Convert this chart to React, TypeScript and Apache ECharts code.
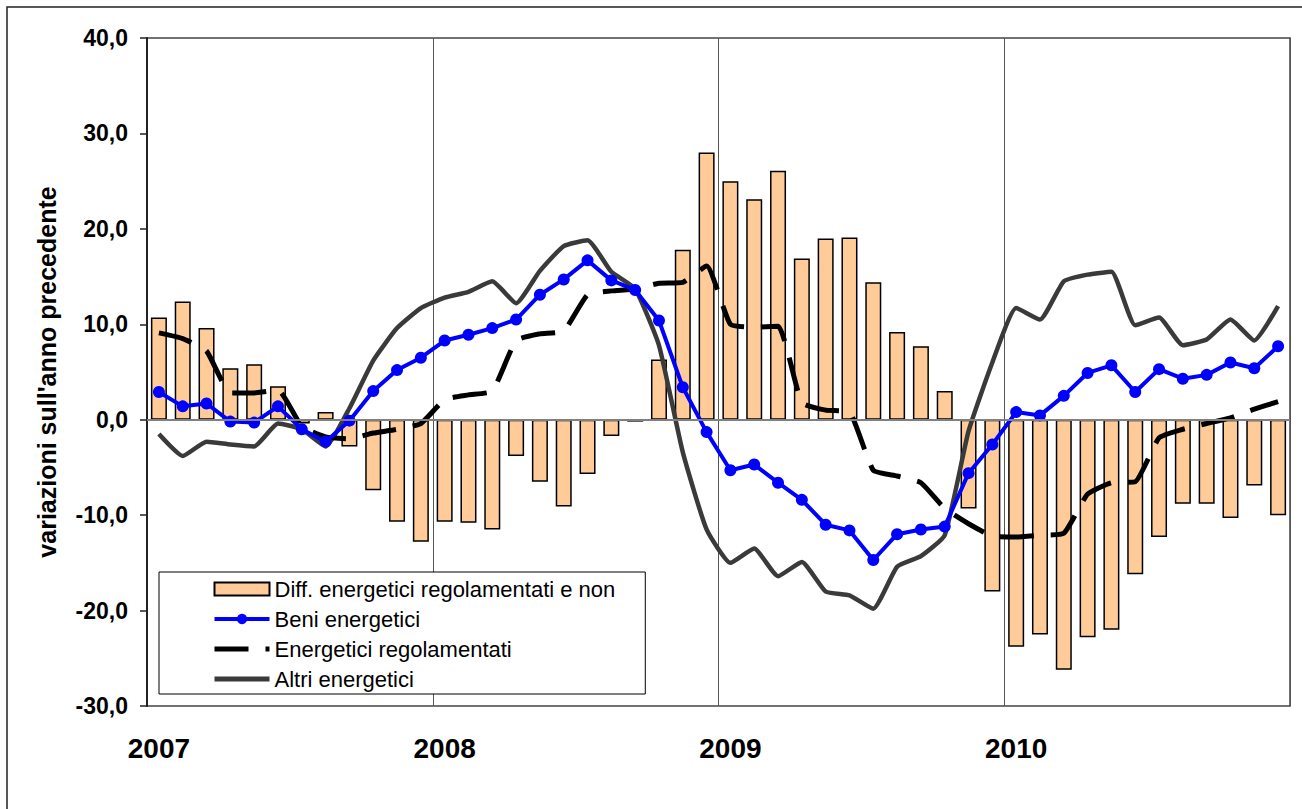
import React, { useEffect, useRef } from "react";
import * as echarts from "echarts";

const years = ["2007", "2008", "2009", "2010"];
const months = ["01", "02", "03", "04", "05", "06", "07", "08", "09", "10", "11", "12"];
const categories: string[] = [];
years.forEach((y) => months.forEach((m) => categories.push(`${y}-${m}`)));

const diffRegolamentati = [
  10.7, 12.4, 9.6, 5.4, 5.8, 3.5, -0.4, 0.8, -2.8, -7.4, -10.7, -12.8,
  -10.7, -10.8, -11.5, -3.8, -6.5, -9.1, -5.7, -1.7, -0.2, 6.3, 17.8, 28.0,
  25.0, 23.1, 26.1, 16.9, 19.0, 19.1, 14.4, 9.2, 7.7, 3.0, -9.3, -18.0,
  -23.8, -22.5, -26.2, -22.8, -22.0, -16.2, -12.3, -8.8, -8.8, -10.3, -6.9, -10.0,
];

const beniEnergetici = [
  2.9, 1.4, 1.7, -0.2, -0.3, 1.4, -1.0, -2.3, -0.1, 3.0, 5.2, 6.5,
  8.3, 8.9, 9.6, 10.5, 13.1, 14.7, 16.7, 14.6, 13.6, 10.4, 3.4, -1.3,
  -5.3, -4.7, -6.6, -8.4, -11.0, -11.6, -14.7, -12.0, -11.5, -11.2, -5.6, -2.6,
  0.8, 0.45, 2.5, 4.9, 5.7, 2.9, 5.3, 4.3, 4.7, 6.0, 5.4, 7.7,
];

const energeticiRegolamentati = [
  9.1, 8.5, 7.2, 2.8, 2.8, 3.1, -0.7, -1.8, -2.0, -1.4, -1.0, -0.4,
  2.1, 2.6, 3.0, 8.3, 9.0, 9.3, 13.1, 13.5, 13.7, 14.3, 14.4, 16.1,
  10.0, 9.7, 9.8, 1.8, 1.0, 0.8, -5.3, -5.9, -6.6, -9.3, -10.9, -12.2,
  -12.3, -12.1, -11.9, -7.8, -6.6, -6.5, -1.9, -1.0, -0.4, 0.2, 1.1, 1.9,
];

const altriEnergetici = [
  -1.5, -3.8, -2.3, -2.6, -2.8, -0.4, -1.0, -2.8, 1.2, 6.2, 9.6, 11.7,
  12.8, 13.4, 14.5, 12.2, 15.6, 18.2, 18.8, 15.5, 13.7, 7.8, -3.4, -11.5,
  -15.0, -13.5, -16.4, -14.9, -18.0, -18.4, -19.8, -15.4, -14.3, -12.1, -1.2, 6.0,
  11.7, 10.5, 14.5, 15.2, 15.5, 9.9, 10.7, 7.8, 8.4, 10.5, 8.3, 11.9,
];

const seriesNames = [
  "Diff. energetici regolamentati e non",
  "Beni energetici",
  "Energetici regolamentati",
  "Altri energetici",
];

const FONT = 'Arial, "Liberation Sans", sans-serif';
const DASH = [34, 17];

export default function App() {
  const ref = useRef<HTMLDivElement>(null);

  useEffect(() => {
    if (!ref.current) return;
    const chart = echarts.init(ref.current, undefined, { renderer: "svg" });
    chart.setOption({
      animation: false,
      backgroundColor: "#ffffff",
      textStyle: { fontFamily: FONT },
      graphic: [
        {
          type: "rect",
          z: 0,
          shape: { x: 7, y: 7, width: 1320, height: 830 },
          style: { fill: "none", stroke: "#222", lineWidth: 1.5 },
        },
      ],
      grid: {
        left: 147,
        right: 12,
        top: 38,
        bottom: 103,
        show: true,
        borderColor: "#444",
        borderWidth: 1.5,
        backgroundColor: "transparent",
      },
      legend: {
        orient: "vertical",
        left: 159,
        top: 572,
        padding: [6, 30, 4, 53],
        itemWidth: 55,
        itemHeight: 13,
        itemGap: 8,
        backgroundColor: "#ffffff",
        borderColor: "#000",
        borderWidth: 1,
        textStyle: { fontSize: 22, fontFamily: FONT, color: "#000" },
        data: [
          { name: seriesNames[0], icon: "rect" },
          {
            name: seriesNames[1],
            itemStyle: { color: "#0000FF" },
            lineStyle: { color: "#0000FF", width: 4 },
          },
          {
            name: seriesNames[2],
            itemStyle: { opacity: 0 },
            lineStyle: { color: "#000", width: 5, type: DASH, cap: "butt" },
          },
          {
            name: seriesNames[3],
            itemStyle: { opacity: 0 },
            lineStyle: { color: "#3a3a3a", width: 5 },
          },
        ],
      },
      xAxis: {
        type: "category",
        data: categories,
        boundaryGap: true,
        axisLine: { show: false, onZero: false },
        axisTick: { show: false },
        axisLabel: {
          interval: (index: number) => index % 12 === 0,
          formatter: (v: string) => v.slice(0, 4),
          fontSize: 28,
          fontWeight: "bold",
          fontFamily: FONT,
          color: "#000",
          margin: 28,
        },
        splitLine: {
          show: true,
          interval: (index: number) => index % 12 === 0,
          lineStyle: { color: "#555", width: 1 },
        },
      },
      yAxis: {
        type: "value",
        min: -30,
        max: 40,
        interval: 10,
        name: "variazioni sull'anno precedente",
        nameLocation: "middle",
        nameRotate: 90,
        nameGap: 88,
        nameTextStyle: { fontSize: 25, fontWeight: "bold", fontFamily: FONT, color: "#000" },
        axisLine: { show: true, lineStyle: { color: "#222", width: 2 } },
        axisTick: { show: true, inside: false, length: 7, lineStyle: { color: "#222", width: 1.5 } },
        axisLabel: {
          formatter: (v: number) => v.toFixed(1).replace(".", ","),
          fontSize: 23,
          fontWeight: "bold",
          fontFamily: FONT,
          color: "#000",
          margin: 19,
        },
        splitLine: { show: false },
      },
      series: [
        {
          name: seriesNames[0],
          type: "bar",
          data: diffRegolamentati,
          barWidth: 16,
          itemStyle: { color: "#FFCC99", borderColor: "#000", borderWidth: 1.5 },
          markLine: {
            silent: true,
            symbol: ["none", "none"],
            label: { show: false },
            lineStyle: { color: "#808080", width: 2, type: "solid" },
            data: [{ yAxis: 0 }],
          },
        },
        {
          name: seriesNames[3],
          type: "line",
          data: altriEnergetici,
          smooth: 0.15,
          showSymbol: false,
          symbol: "none",
          lineStyle: { color: "#3a3a3a", width: 4.5 },
          itemStyle: { color: "#3a3a3a" },
        },
        {
          name: seriesNames[2],
          type: "line",
          data: energeticiRegolamentati,
          smooth: 0.15,
          showSymbol: false,
          symbol: "none",
          lineStyle: { color: "#000", width: 5, type: DASH, cap: "butt" },
          itemStyle: { color: "#000" },
        },
        {
          name: seriesNames[1],
          type: "line",
          data: beniEnergetici,
          symbol: "circle",
          symbolSize: 12,
          lineStyle: { color: "#0000FF", width: 4 },
          itemStyle: { color: "#0000FF" },
        },
      ],
    });
    return () => chart.dispose();
  }, []);

  return (
    <div
      ref={ref}
      style={{ position: "absolute", left: 0, top: 0, width: 1302, height: 809 }}
    />
  );
}
